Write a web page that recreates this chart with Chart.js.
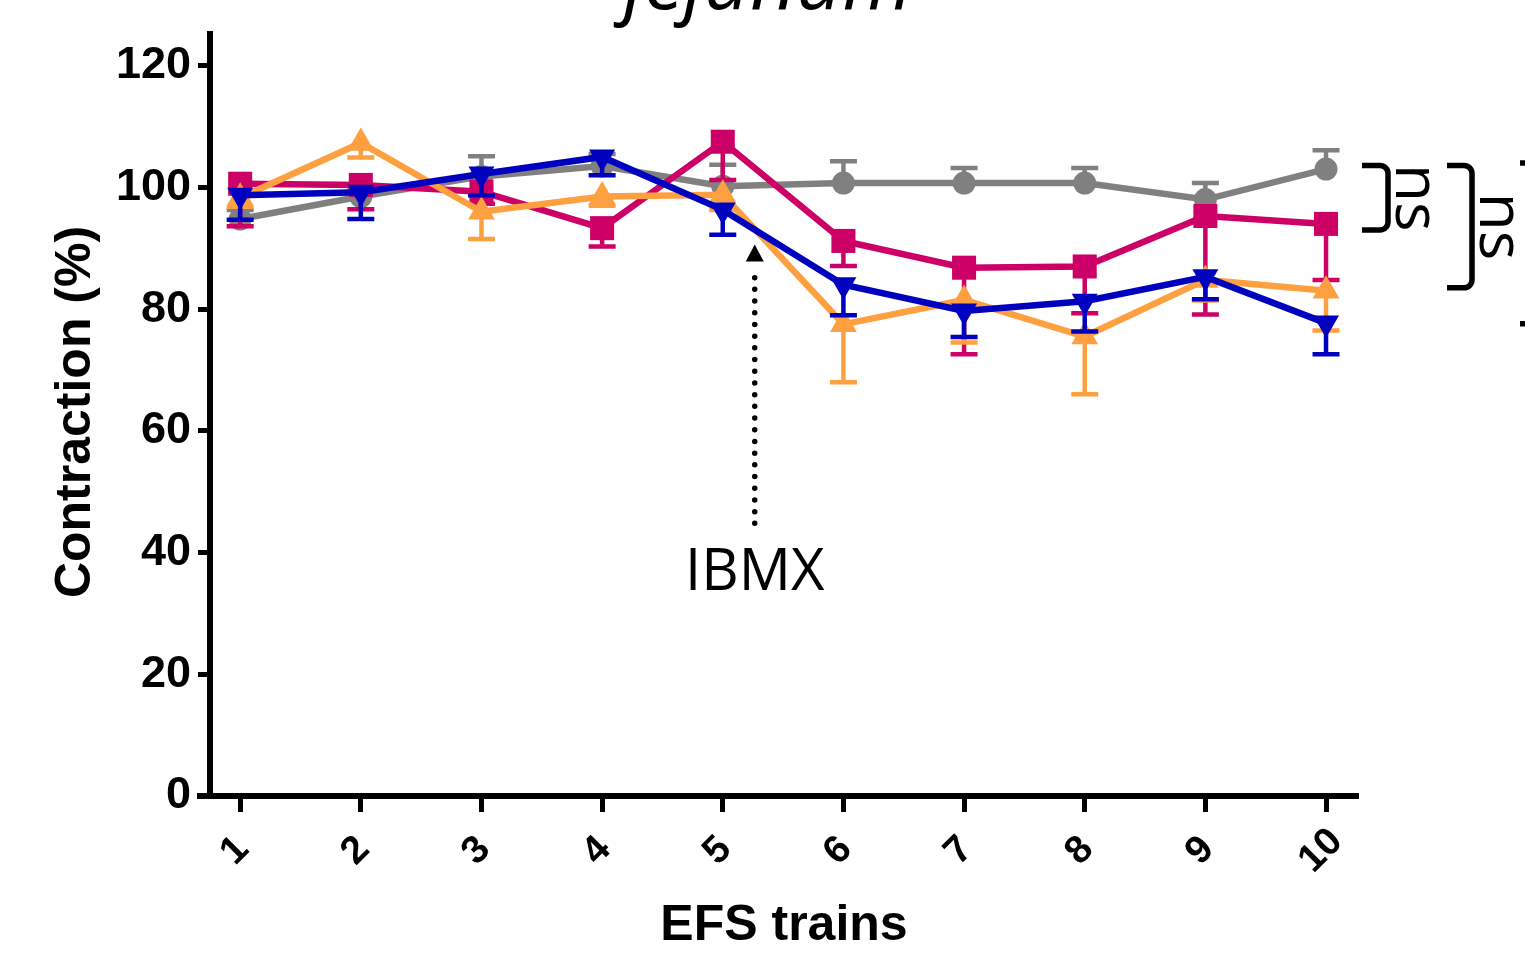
<!DOCTYPE html>
<html>
<head>
<meta charset="utf-8">
<script src="https://cdn.jsdelivr.net/npm/chart.js@4.4.1/dist/chart.umd.min.js"></script>
<style>
  html, body { margin: 0; padding: 0; background: #fff; }
  #wrap { width: 1525px; height: 965px; position: relative; }
</style>
</head>
<body>
<div id="wrap"><canvas id="contractionChart"></canvas></div>
<script>
// EFS trains on the x axis, contraction (%) on the y axis
const trains = [1, 2, 3, 4, 5, 6, 7, 8, 9, 10];
const trainLabels = ['1', '2', '3', '4', '5', '6', '7', '8', '9', '10'];
const yTicks = [0, 20, 40, 60, 80, 100, 120];

const greyValues    = [94.8, 98.5, 101.8, 103.5, 100.2, 100.7, 100.7, 100.7, 98.0, 103.0];
const greyErr       = [1.5, 1.5, 3.3, 2.0, 3.5, 3.6, 2.5, 2.5, 2.7, 3.1];
const magentaValues = [100.6, 100.4, 99.3, 93.3, 107.5, 91.2, 86.8, 87.0, 95.3, 94.0];
const magentaErr    = [7.0, 4.0, 2.0, 3.0, 6.3, 4.1, 14.2, 7.7, 16.2, 9.2];
const orangeValues  = [98.3, 107.3, 96.0, 98.5, 98.8, 77.5, 81.5, 75.5, 84.8, 83.0];
const orangeErr     = [1.5, 2.4, 4.5, 1.5, 2.5, 9.5, 7.0, 9.5, 3.4, 6.5];
const blueValues    = [98.7, 99.2, 102.2, 105.0, 96.3, 84.0, 79.7, 81.3, 85.3, 77.7];
const blueErr       = [4.0, 4.4, 3.5, 3.0, 4.1, 5.0, 4.3, 5.0, 3.7, 5.1];

// significance brackets (top / bottom in % units), text
const brackets = [[103.6, 93.0], [103.6, 83.5], [104.0, 77.6]];
const bracketText = ['ns', 'ns', ''];

const ibmxArrow = { x: 5.265, from: 44.8, to: 90.6 };

function series(values, err, errDir, color, style, radius, rotation) {
  return {
    data: trains.map((t, i) => ({ x: t, y: values[i] })),
    err: err,
    errDir: errDir,
    borderColor: color,
    backgroundColor: color,
    borderWidth: 6.5,
    pointStyle: style,
    pointRadius: radius,
    pointRotation: rotation || 0,
    pointBorderWidth: 0,
    pointBackgroundColor: color,
    tension: 0,
    clip: false
  };
}

const BOLD = '"Liberation Sans", Arial, sans-serif';
const SOFT = '"Open Sans", "Noto Sans", sans-serif';

const extras = {
  id: 'extras',
  beforeDatasetDraw(chart, args) {
    const ds = chart.data.datasets[args.index];
    const xs = chart.scales.x, ys = chart.scales.y;
    const ctx = chart.ctx;
    ctx.save();
    ctx.strokeStyle = ds.borderColor;
    ctx.lineWidth = 4.5;
    ds.data.forEach((p, i) => {
      const px = xs.getPixelForValue(p.x);
      const py0 = ys.getPixelForValue(p.y);
      const py1 = ys.getPixelForValue(p.y + ds.errDir * ds.err[i]);
      ctx.beginPath();
      ctx.moveTo(px, py0);
      ctx.lineTo(px, py1);
      ctx.moveTo(px - 13.5, py1);
      ctx.lineTo(px + 13.5, py1);
      ctx.stroke();
    });
    ctx.restore();
  },
  afterDraw(chart) {
    const ctx = chart.ctx;
    const xs = chart.scales.x, ys = chart.scales.y;
    const area = chart.chartArea;
    ctx.save();
    ctx.fillStyle = '#000';
    ctx.strokeStyle = '#000';

    // small stub of x axis left of the y axis
    ctx.lineWidth = 6;
    ctx.beginPath();
    ctx.moveTo(area.left - 13, area.bottom);
    ctx.lineTo(area.left, area.bottom);
    ctx.stroke();

    // x tick labels, rotated
    ctx.font = 'bold 39px ' + BOLD;
    ctx.textAlign = 'center';
    ctx.textBaseline = 'middle';
    trains.forEach((t, i) => {
      ctx.save();
      ctx.translate(xs.getPixelForValue(t) - 5, area.bottom + 55);
      ctx.rotate(-Math.PI / 4);
      ctx.fillText(trainLabels[i], 0, 0);
      ctx.restore();
    });

    // axis titles
    ctx.font = 'bold 50px ' + BOLD;
    ctx.fillText('EFS trains', (area.left + area.right) / 2, 926);
    ctx.save();
    ctx.translate(76, (area.top + area.bottom) / 2 - 3);
    ctx.rotate(-Math.PI / 2);
    ctx.fillText('Contraction (%)', 0, 0);
    ctx.restore();

    // title, mostly cut off at the top
    ctx.font = 'italic 80px ' + SOFT;
    ctx.textBaseline = 'alphabetic';
    ctx.fillText('jejunum', 768, 9);

    // IBMX dotted arrow
    const ax = xs.getPixelForValue(ibmxArrow.x);
    const tipY = ys.getPixelForValue(ibmxArrow.to);
    ctx.save();
    ctx.lineWidth = 5.5;
    ctx.lineCap = 'round';
    ctx.setLineDash([0, 11.7]);
    ctx.beginPath();
    ctx.moveTo(ax, ys.getPixelForValue(ibmxArrow.from));
    ctx.lineTo(ax, tipY + 26);
    ctx.stroke();
    ctx.restore();
    ctx.beginPath();
    ctx.moveTo(ax, tipY);
    ctx.lineTo(ax + 9, tipY + 17);
    ctx.lineTo(ax - 9, tipY + 17);
    ctx.closePath();
    ctx.fill();
    ctx.font = '58px ' + SOFT;
    ctx.fillText('IBMX', ax, 590);

    // ns brackets
    const bx = [[4, 30], [89, 114], [162, 175]];
    ctx.lineWidth = 5.5;
    brackets.forEach((b, i) => {
      const x0 = area.right + bx[i][0], x1 = area.right + bx[i][1];
      const yt = ys.getPixelForValue(b[0]), yb = ys.getPixelForValue(b[1]);
      ctx.beginPath();
      ctx.moveTo(x0, yt);
      ctx.arcTo(x1, yt, x1, yb, 8);
      ctx.arcTo(x1, yb, x0, yb, 8);
      ctx.lineTo(x0, yb);
      ctx.stroke();
      if (bracketText[i]) {
        ctx.save();
        ctx.font = '62px ' + SOFT;
        ctx.translate(x1 + 8, (yt + yb) / 2);
        ctx.rotate(Math.PI / 2);
        ctx.textAlign = 'center';
        ctx.textBaseline = 'alphabetic';
        ctx.fillText(bracketText[i], 0, 0);
        ctx.restore();
      }
    });
    ctx.restore();
  }
};

const ctx = document.getElementById('contractionChart');
new Chart(ctx, {
  type: 'line',
  data: {
    datasets: [
      Object.assign(series(blueValues, blueErr, -1, '#0000bf', 'triangle', 15, 180), { order: 1 }),
      Object.assign(series(orangeValues, orangeErr, -1, '#ffa040', 'triangle', 15.5), { order: 2 }),
      Object.assign(series(magentaValues, magentaErr, -1, '#cc0066', 'rect', 17), { order: 3 }),
      Object.assign(series(greyValues, greyErr, 1, '#808080', 'circle', 11.5), { order: 4 })
    ]
  },
  options: {
    responsive: true,
    maintainAspectRatio: false,
    animation: false,
    layout: { padding: { top: 30, right: 167, left: 0, bottom: 0 } },
    plugins: { legend: { display: false }, tooltip: { enabled: false } },
    scales: {
      x: {
        type: 'linear',
        min: 0.75,
        max: 10.265,
        afterBuildTicks: s => { s.ticks = trains.map(v => ({ value: v })); },
        afterFit: s => { s.height = 169; },
        ticks: { display: false, autoSkip: false },
        border: { display: true, color: '#000', width: 6 },
        grid: { display: true, drawOnChartArea: false, drawTicks: true, tickLength: 16, tickWidth: 5, tickColor: '#000' }
      },
      y: {
        min: 0,
        max: 125.2,
        afterBuildTicks: s => { s.ticks = yTicks.map(v => ({ value: v })); },
        afterFit: s => { s.width = 210; },
        ticks: {
          autoSkip: false,
          color: '#000',
          padding: 7,
          font: { family: BOLD, size: 45, weight: 'bold' }
        },
        border: { display: true, color: '#000', width: 6 },
        grid: { display: true, drawOnChartArea: false, drawTicks: true, tickLength: 12, tickWidth: 5, tickColor: '#000' }
      }
    }
  },
  plugins: [extras]
});
</script>
</body>
</html>
